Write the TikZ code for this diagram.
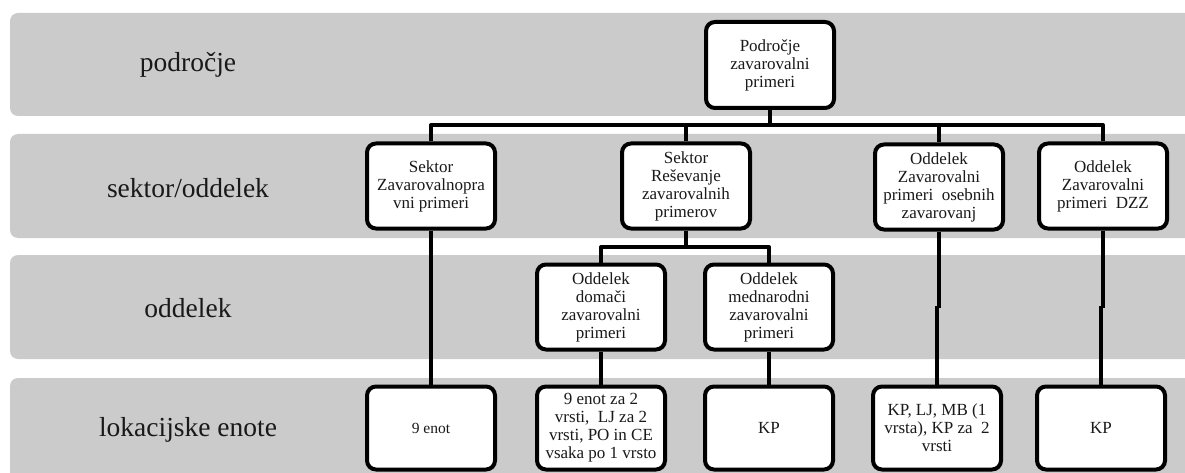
\documentclass[tikz,border=0pt]{standalone}
\usepackage{fontspec}
\setmainfont{Liberation Serif}
\definecolor{bandgray}{RGB}{203,203,203}
\definecolor{inkgray}{RGB}{25,25,25}
\begin{document}
\begin{tikzpicture}[x=1pt,y=-1pt,
  band/.style={fill=bandgray, rounded corners=8pt},
  bandlabel/.style={font=\fontsize{27.5}{30}\selectfont, text=inkgray},
  unit/.style={draw=black, fill=white, line width=4pt, rounded corners=9pt,
    minimum width=128pt, minimum height=85pt, align=center, inner sep=2pt,
    text=inkgray, font=\fontsize{17}{18}\selectfont},
  conn/.style={draw=black, line width=4pt},
  thinconn/.style={draw=black, line width=3.4pt}]
\useasboundingbox (0,0) rectangle (1185,473);
\clip (0,0) rectangle (1185,473);

% level bands
\fill[band] (10,13) rectangle (1210,116);
\fill[band] (10,134) rectangle (1210,238);
\fill[band] (10,255) rectangle (1210,359);
\fill[band] (10,378) rectangle (1210,500);

% level names
\node[bandlabel] (l1) at (188,65) {področje};
\node[bandlabel] (l2) at (188,188) {sektor/oddelek};
\node[bandlabel] (l3) at (188,308) {oddelek};
\node[bandlabel] (l4) at (188,430) {lokacijske enote};

% rail heights
\coordinate (bus) at (0,125);
\coordinate (sub) at (0,247);
\coordinate (mid) at (0,308);

% units
\node[unit, minimum height=86pt] (top) at (770,65) {Področje\\zavarovalni\\primeri};
\node[unit] (A) at (431,186) {Sektor\\Zavarovalnopra\\vni primeri};
\node[unit] (B) at (686,186) {Sektor\\Reševanje\\zavarovalnih\\primerov};
\node[unit] (C) at (939,187) {Oddelek\\Zavarovalni\\primeri~ osebnih\\zavarovanj};
\node[unit] (D) at (1103,186) {Oddelek\\Zavarovalni\\primeri~ DZZ};
\node[unit] (E) at (601,307) {Oddelek\\domači\\zavarovalni\\primeri};
\node[unit] (F) at (769,307) {Oddelek\\mednarodni\\zavarovalni\\primeri};
\node[unit, minimum height=83pt, font=\fontsize{15.5}{18}\selectfont] (G) at (431,428) {9 enot};
\node[unit, minimum height=83pt] (H) at (601,428) {9 enot za 2\\vrsti,~ LJ za 2\\vrsti, PO in CE\\vsaka po 1 vrsto};
\node[unit, minimum height=83pt] (I) at (769,428) {KP};
\node[unit, minimum height=83pt] (J) at (937,428) {KP, LJ, MB (1\\vrsta), KP za~ 2\\vrsti};
\node[unit, minimum height=83pt] (K) at (1101,428) {KP};

% top rail
\draw[conn, line join=round] (A.north) |- (D.north |- bus) -- (D.north);
\draw[conn] (top.south) -- (top.south |- bus);
\draw[conn] (B.north) -- (B.north |- bus);
\draw[conn] (C.north) -- (C.north |- bus);

% rail below the Reševanje sector
\draw[conn] (B.south) -- (B.south |- sub);
\draw[conn, line join=round] (E.north) |- (F.north |- sub) -- (F.north);

% straight drops
\draw[conn] (A.south) -- (G.north);
\draw[conn] (E.south) -- (H.north);
\draw[conn] (F.south) -- (I.north);

% drops with a small step halfway
\draw[conn] (C.south) -- (C.south |- mid);
\draw[thinconn] (J.north) -- ([yshift=2pt]J.north |- mid);
\draw[conn] (D.south) -- (D.south |- mid);
\draw[thinconn] (K.north) -- ([yshift=2pt]K.north |- mid);
\end{tikzpicture}
\end{document}
